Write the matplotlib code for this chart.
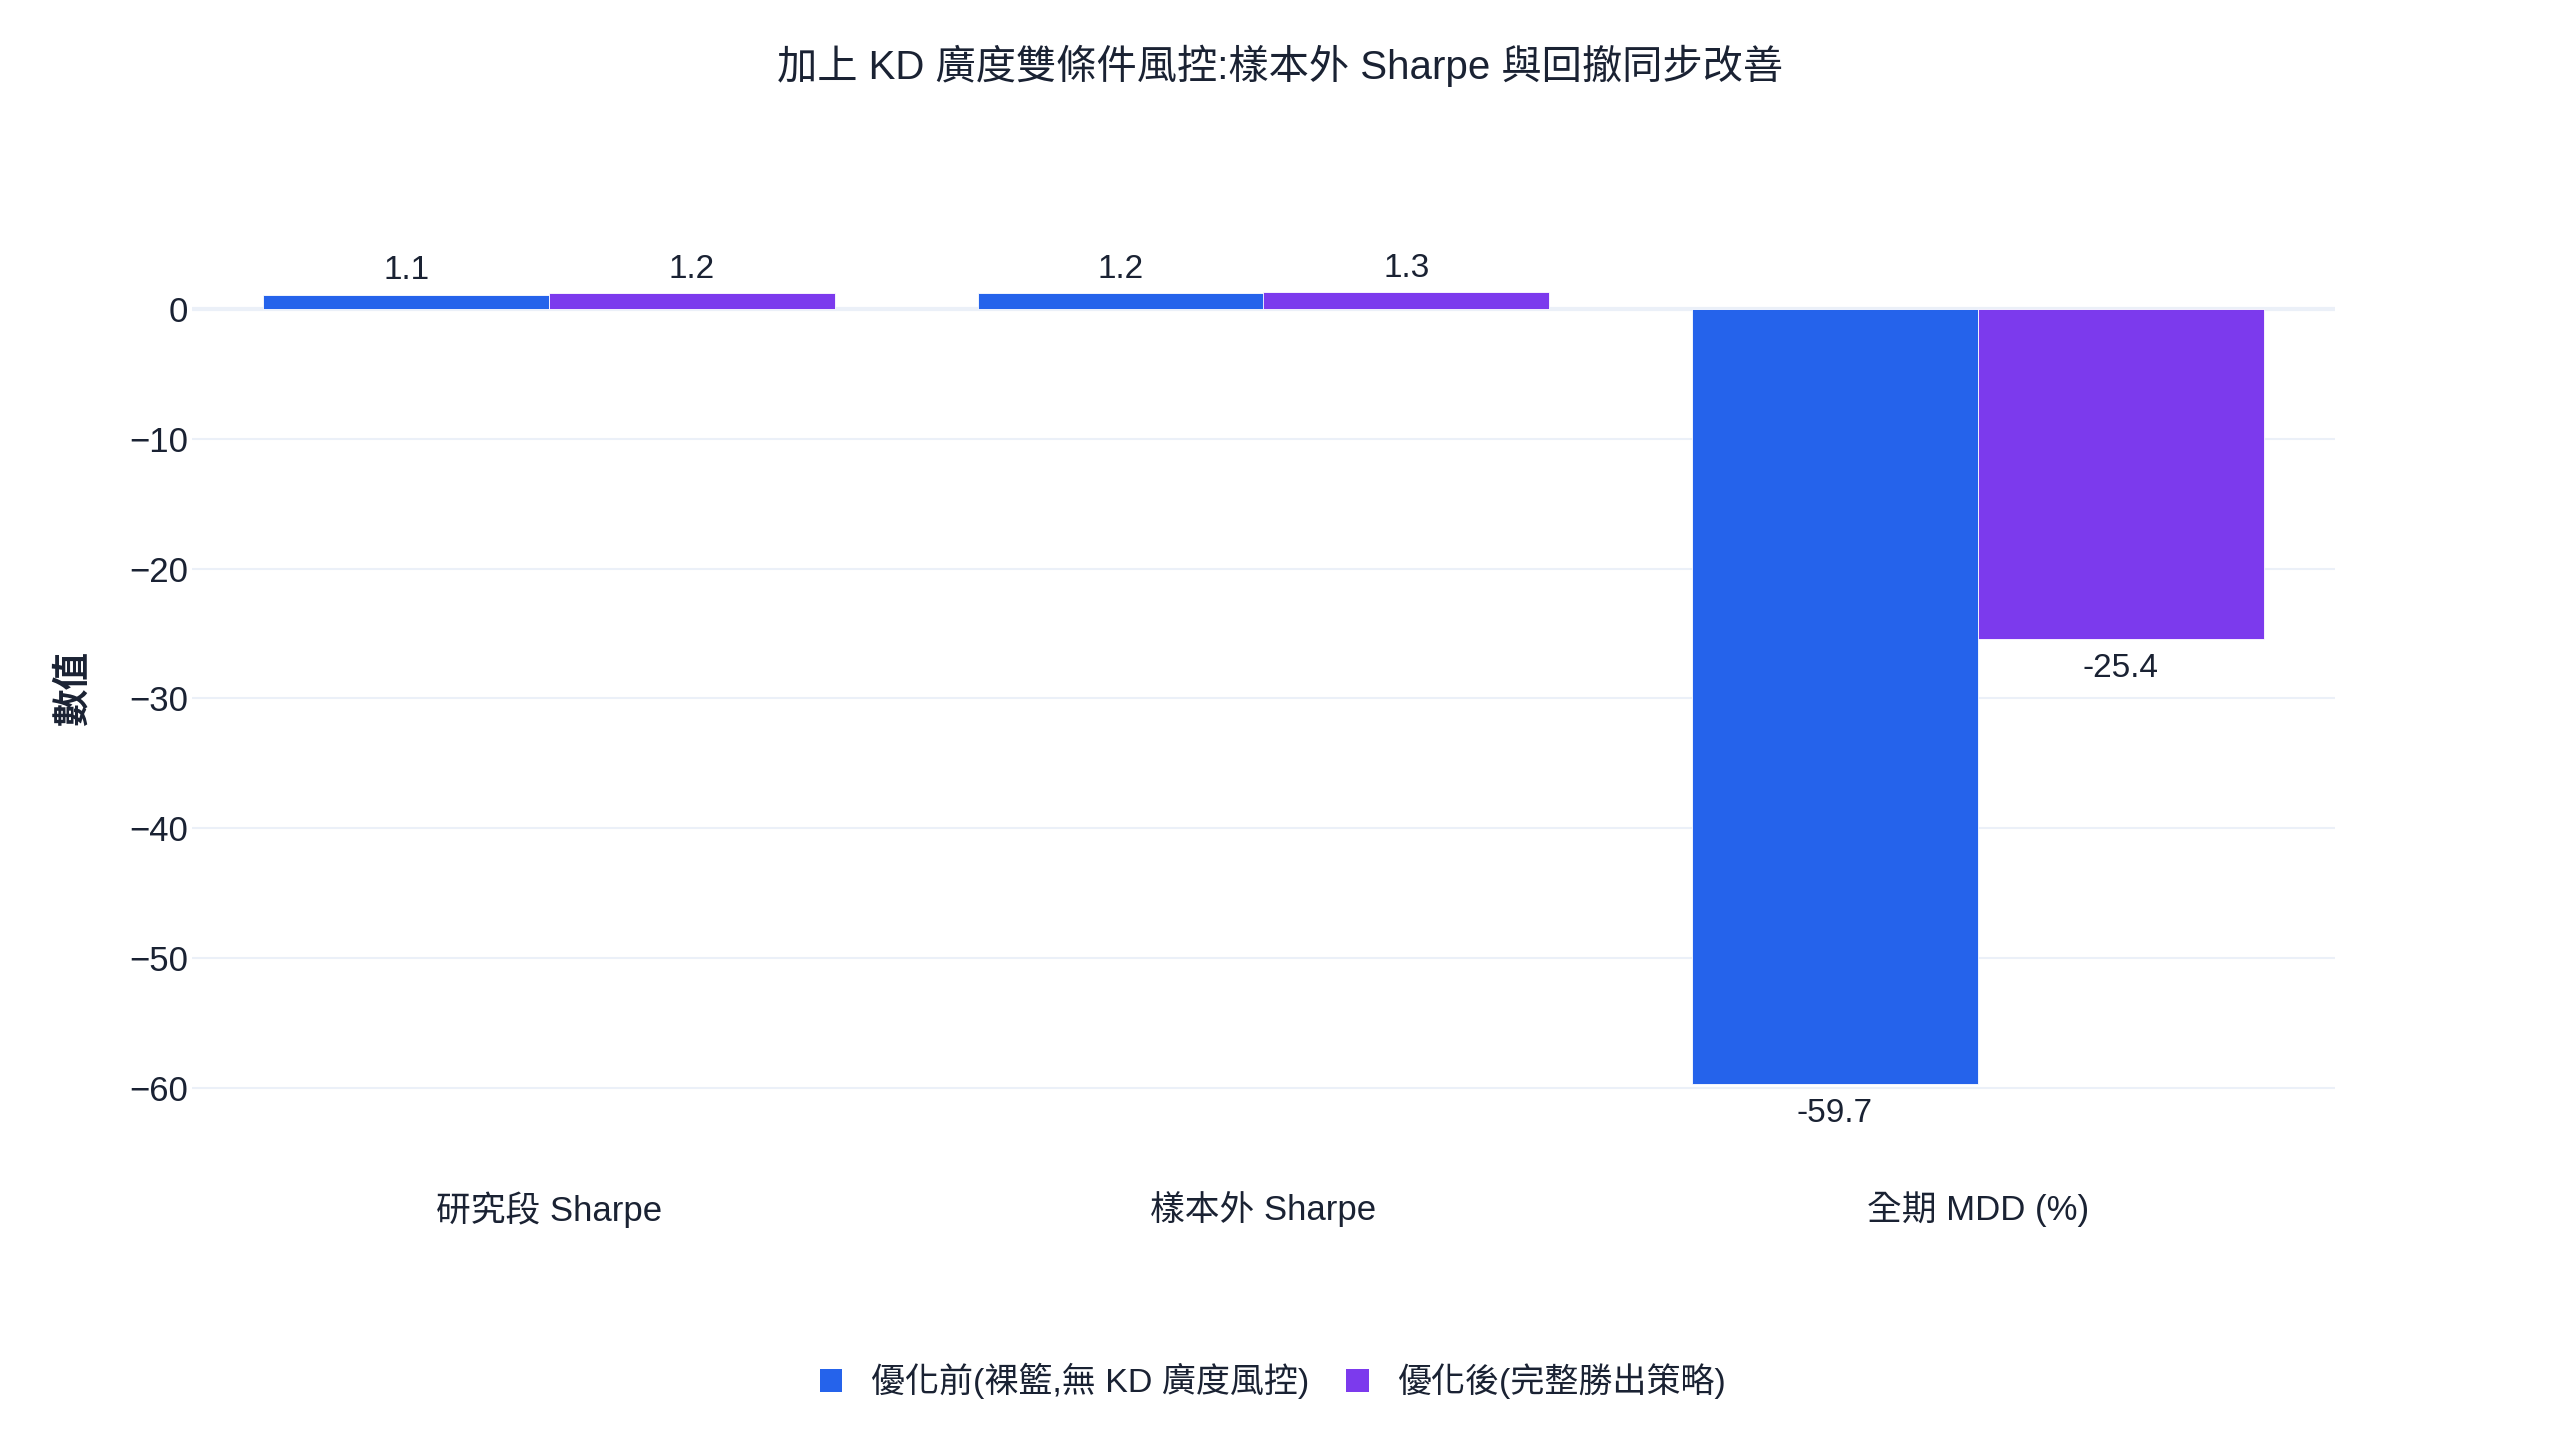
import numpy as np
import matplotlib
matplotlib.use("Agg")
import matplotlib.pyplot as plt
from matplotlib.patches import Patch

plt.rcParams['font.family'] = ['Liberation Sans', 'Noto Sans CJK TC', 'DejaVu Sans']

# datos
categorias = ["研究段 Sharpe", "樣本外 Sharpe", "全期 MDD (%)"]
antes = [1.1, 1.2, -59.7]
despues = [1.2, 1.3, -25.4]
series = ["優化前(裸籃,無 KD 廣度風控)", "優化後(完整勝出策略)"]
yticks = [0, -10, -20, -30, -40, -50, -60]
titulo = "加上 KD 廣度雙條件風控:樣本外 Sharpe 與回撤同步改善"

AZUL = "#2563EB"
MORADO = "#7C3AED"
TEXTO = "#1a2233"
GRID = "#EBF0F8"

W, H = 2560, 1440
fig = plt.figure(figsize=(W / 100, H / 100), dpi=100)
# area del grafico en pixeles
izq, der, arriba, abajo = 192, 2335, 198, 1180
ax = fig.add_axes([izq / W, 1 - abajo / H, (der - izq) / W, (abajo - arriba) / H])

x = np.arange(len(categorias))
ancho = 0.4
b1 = ax.bar(x - ancho / 2, antes, ancho, color=AZUL, edgecolor="white", linewidth=0.6, zorder=3)
b2 = ax.bar(x + ancho / 2, despues, ancho, color=MORADO, edgecolor="white", linewidth=0.6, zorder=3)

# etiquetas: positivas arriba, negativas un poco mas abajo
for barras, vals in [(b1, antes), (b2, despues)]:
    for barra, v in zip(barras, vals):
        ax.annotate(f"{v:.1f}", (barra.get_x() + barra.get_width() / 2, v),
                    xytext=(0, 6 if v >= 0 else -10), textcoords="offset points",
                    ha="center", va="bottom" if v >= 0 else "top",
                    fontsize=24, color=TEXTO)

ax.set_xlim(-0.5, 2.5)
ax.set_ylim(-67.1, 8.55)
ax.set_yticks(yticks)
ax.set_xticks(x)
ax.set_xticklabels(categorias)
ax.tick_params(axis='both', length=0, labelsize=25, labelcolor=TEXTO)
ax.tick_params(axis='y', pad=3)
ax.tick_params(axis='x', pad=8)

for s in ax.spines.values():
    s.set_visible(False)
ax.grid(axis='y', color=GRID, linewidth=1.5, zorder=0)
ax.axhline(0, color=GRID, linewidth=3, zorder=1)

ax.set_ylabel("數值", fontsize=27, color=TEXTO, fontweight='bold', va='center')
ax.yaxis.set_label_coords((74 - izq) / (der - izq), 0.5)

fig.text(0.5, 1 - 66 / H, titulo, ha='center', va='center', fontsize=29, color=TEXTO)

handles = [Patch(facecolor=AZUL), Patch(facecolor=MORADO)]
fig.legend(handles, series, loc='center', bbox_to_anchor=(0.5 - 7 / W, 1 - 1381 / H), ncol=2,
           frameon=False, fontsize=24.5, handlelength=0.65, handleheight=0.65,
           handletextpad=0.85, columnspacing=1.1, labelcolor=TEXTO)

fig.savefig("out.png", dpi=100, facecolor="white")
